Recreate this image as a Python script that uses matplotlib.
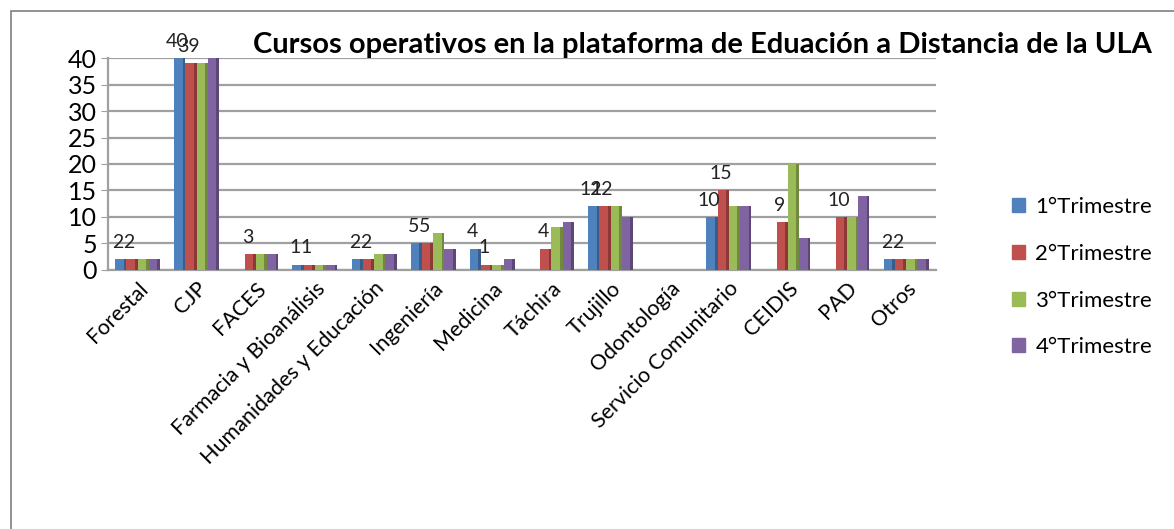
import matplotlib
matplotlib.use("Agg")
import matplotlib.pyplot as plt
import numpy as np
from matplotlib.patches import Rectangle

categories = ["Forestal", "CJP", "FACES", "Farmacia y Bioanálisis", "Humanidades y Educación",
              "Ingeniería", "Medicina", "Táchira", "Trujillo", "Odontología",
              "Servicio Comunitario", "CEIDIS", "PAD", "Otros"]
series_names = ["1°Trimestre", "2°Trimestre", "3°Trimestre", "4°Trimestre"]
t1 = [2, 40, 0, 1, 2, 5, 4, 0, 12, 0, 10, 0, 0, 2]
t2 = [2, 39, 3, 1, 2, 5, 1, 4, 12, 0, 15, 9, 10, 2]
t3 = [2, 39, 3, 1, 3, 7, 1, 8, 12, 0, 12, 20, 10, 2]
t4 = [2, 40, 3, 1, 3, 4, 2, 9, 10, 0, 12, 6, 14, 2]
y_ticks = [0, 5, 10, 15, 20, 25, 30, 35, 40]
title = "Cursos operativos en la plataforma de Eduación a Distancia de la ULA"

colors = ["#4f81bd", "#c0504d", "#9bbb59", "#8064a2"]
dark = ["#385d8a", "#8c3836", "#71893f", "#5c4776"]

plt.rcParams['font.family'] = ['Lato', 'DejaVu Sans']

fig = plt.figure(figsize=(11.74, 5.29), dpi=100)
fig.patches.append(Rectangle((0.009, -0.05), 0.995, 1.03, transform=fig.transFigure,
                             fill=False, edgecolor="#7f7f7f", lw=1.2))
ax = fig.add_axes([0.092, 0.49, 0.705, 0.40])

x = np.arange(len(categories))
w = 0.19
data = [t1, t2, t3, t4]
for i, vals in enumerate(data):
    pos = x + (i - 1.5) * w
    ax.bar(pos, vals, width=w, color=colors[i], edgecolor="none", zorder=3, label=series_names[i])
    ax.bar(pos + w * 0.38, vals, width=w * 0.24, color=dark[i], edgecolor="none", zorder=3)

for i in range(2):
    vals = data[i]
    pos = x + (i - 1.5) * w
    for p, v in zip(pos, vals):
        if v > 0:
            ax.annotate(str(v), (p, v), xytext=(-2, 6), textcoords="offset points",
                        ha="center", va="bottom", fontsize=14, color="#222222")

ax.set_xlim(-0.5, len(categories) - 0.5)
ax.set_ylim(0, 40)
ax.set_yticks(y_ticks)
ax.set_yticklabels([str(v) for v in y_ticks], fontsize=18)
ax.set_xticks(x)
ax.set_xticklabels(categories, rotation=45, ha="right", rotation_mode="anchor", fontsize=15.5)
ax.tick_params(axis="x", length=0, pad=6)
ax.tick_params(axis="y", length=5, color="#a0a0a0", pad=3)
ax.grid(axis="y", color="#a0a0a0", lw=1.6, zorder=0)
for s in ["top", "right"]:
    ax.spines[s].set_visible(False)
for s in ["left", "bottom"]:
    ax.spines[s].set_color("#a0a0a0")
    ax.spines[s].set_linewidth(1.6)

fig.text(0.598, 0.915, title, ha="center", va="center", fontsize=21, fontweight="bold")

handles = [Rectangle((0, 0), 1, 1, color=c) for c in colors]
fig.legend(handles, series_names, loc="center left", bbox_to_anchor=(0.862, 0.476),
           frameon=False, fontsize=16, handlelength=0.6, handleheight=0.6,
           labelspacing=1.2, handletextpad=0.45, borderaxespad=0, borderpad=0)

fig.savefig("out.png", dpi=100)
